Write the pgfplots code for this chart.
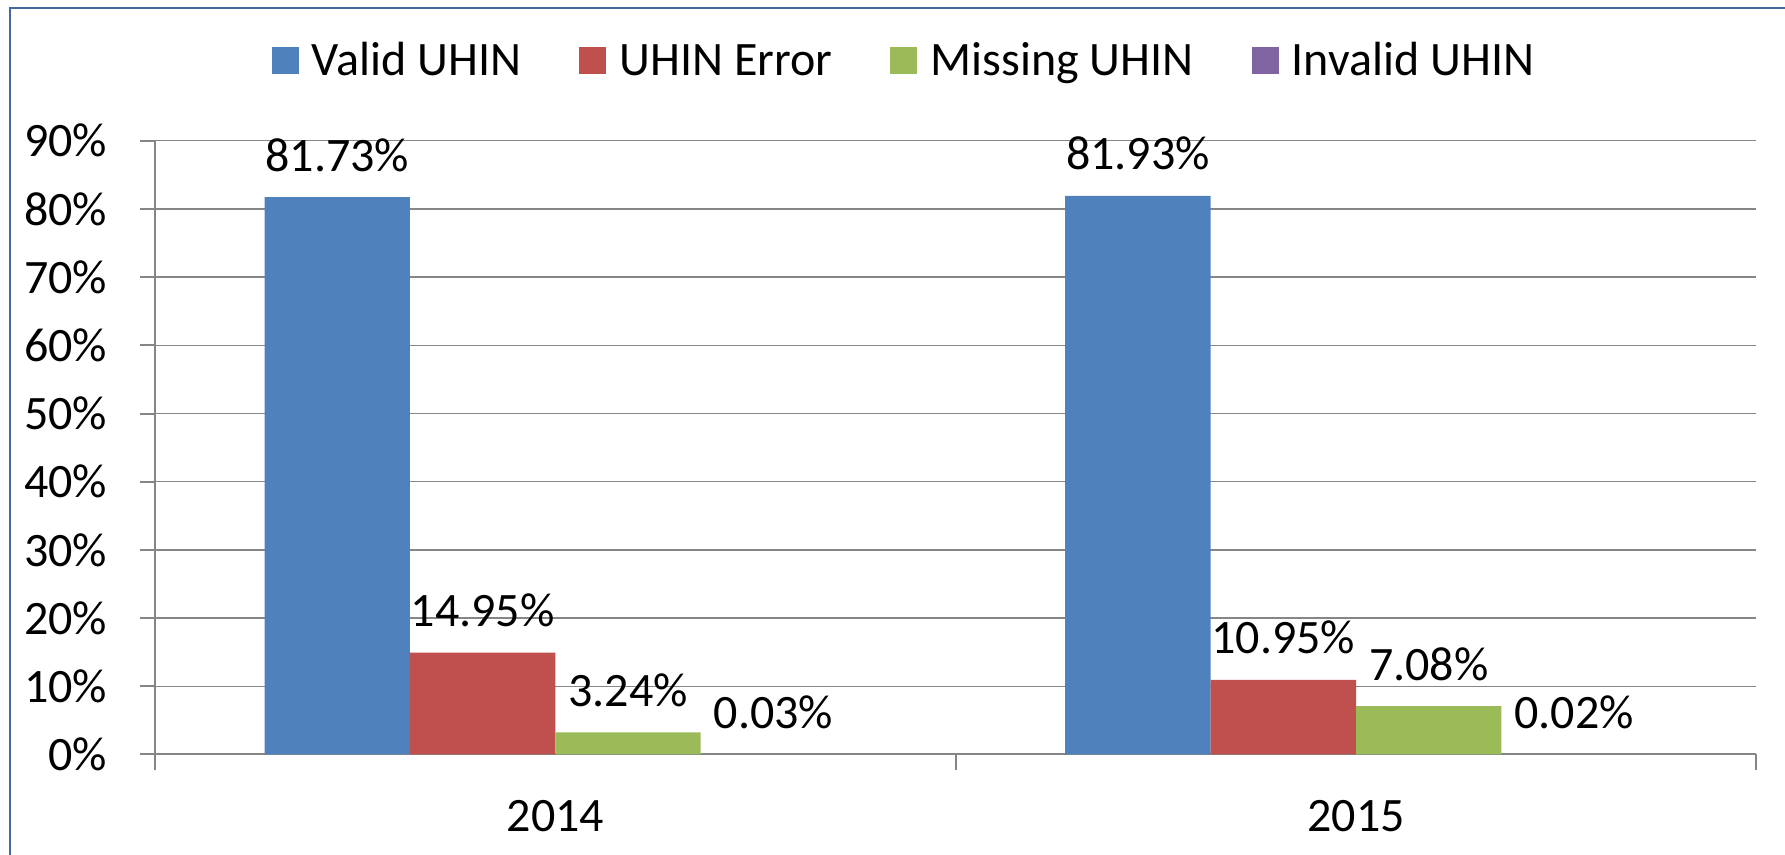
\documentclass[border=0pt]{standalone}
\usepackage{fontspec}
\setmainfont{Carlito}
\usepackage{pgfplots}
\pgfplotsset{compat=1.18}
\definecolor{cblue}{HTML}{4F81BD}
\definecolor{cred}{HTML}{C0504D}
\definecolor{cgreen}{HTML}{9BBB59}
\definecolor{cpurple}{HTML}{8064A2}
\definecolor{cgrid}{HTML}{868686}
\definecolor{cborder}{RGB}{68,105,160}
\begin{document}
\fontsize{12pt}{14.4pt}\selectfont
\begin{tikzpicture}
\useasboundingbox (0,0) rectangle (446.25pt,213.75pt);
\draw[cborder, line width=0.5pt] (2.5pt,0pt) -- (2.5pt,211.75pt) -- (446.25pt,211.75pt);
\begin{axis}[
  at={(38.75pt,25.125pt)}, anchor=south west,
  scale only axis, width=400.33pt, height=153.45pt,
  xmin=-0.5, xmax=1.5, ymin=0, ymax=90,
  enlargelimits=false, clip=false,
  ybar, bar width=0.1816,
  axis x line*=bottom, axis y line*=left,
  axis line style={-, draw=cgrid, line width=0.5pt},
  tick align=outside,
  major tick length=3.8pt, minor tick length=3.8pt,
  xtick={0,1}, xticklabels={2014,2015},
  minor xtick={-0.5,0.5,1.5},
  x tick style={draw=none},
  minor x tick style={draw=cgrid, line width=0.5pt},
  ytick={0,10,...,90},
  yticklabels={0\%,10\%,20\%,30\%,40\%,50\%,60\%,70\%,80\%,90\%},
  y tick style={draw=cgrid, line width=0.5pt},
  ymajorgrids, grid style={draw=cgrid, line width=0.35pt},
  yticklabel style={anchor=east, inner sep=0pt, xshift=-7.95pt},
  xticklabel style={anchor=base, inner sep=0pt, yshift=-15.5pt},
  point meta=explicit symbolic,
  nodes near coords,
  every node near coord/.append style={anchor=base, inner sep=0pt, yshift=6.5pt, text=black},
  legend columns=4,
  legend style={at={(0.4671,1.131)}, anchor=center, draw=none, fill=none,
    inner sep=0pt, nodes={inner sep=0pt, text height=7.7pt, text depth=0pt},
    /tikz/every odd column/.append style={column sep=3.3pt},
    /tikz/every even column/.append style={column sep=14.5pt}},
  legend cell align=left,
  legend image code/.code={\fill[#1] (0pt,-3.375pt) rectangle (6.75pt,3.375pt);},
]
\addplot[fill=cblue, draw=none, bar shift=-0.2724] coordinates {(0,81.73) [81.73\%] (1,81.93) [81.93\%]};
\addplot[fill=cred, draw=none, bar shift=-0.0908] coordinates {(0,14.95) [14.95\%] (1,10.95) [10.95\%]};
\addplot[fill=cgreen, draw=none, bar shift=0.0908] coordinates {(0,3.24) [3.24\%] (1,7.08) [7.08\%]};
\addplot[fill=cpurple, draw=none, bar shift=0.2724] coordinates {(0,0.03) [0.03\%] (1,0.02) [0.02\%]};
\legend{Valid UHIN, UHIN Error, Missing UHIN, Invalid UHIN}
\end{axis}
\end{tikzpicture}
\end{document}
